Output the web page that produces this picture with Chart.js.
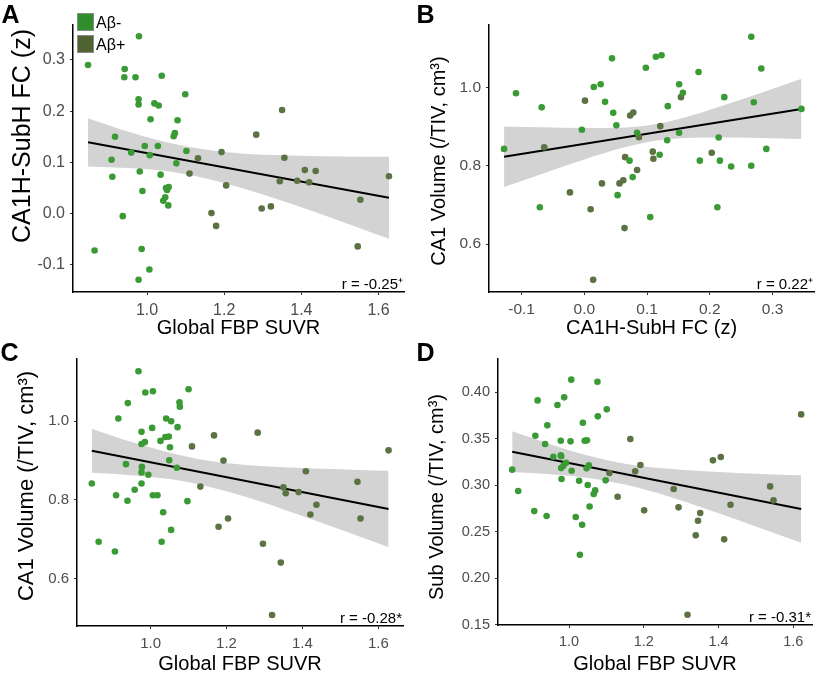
<!DOCTYPE html>
<html>
<head>
<meta charset="utf-8">
<script src="https://cdn.jsdelivr.net/npm/chart.js@4.4.1/dist/chart.umd.min.js"></script>
<style>
  body { margin: 0; background: #fff; }
  #wrap { position: relative; width: 820px; height: 676px; font-family: "Liberation Sans", Arial, sans-serif; }
  canvas { position: absolute; }
  .tag { position: absolute; font-weight: bold; font-size: 25px; line-height: 25px; color: #000; }
  .key { position: absolute; left: 77px; width: 15px; height: 16px; border: 1px solid #8c8c8c; }
  .keytext { position: absolute; left: 96px; font-size: 16px; line-height: 16px; color: #000; }
</style>
</head>
<body>
<div id="wrap">
  <canvas id="chartA" width="410" height="338" style="left:0;top:0"></canvas>
  <canvas id="chartB" width="410" height="338" style="left:410px;top:0"></canvas>
  <canvas id="chartC" width="410" height="338" style="left:0;top:338px"></canvas>
  <canvas id="chartD" width="410" height="338" style="left:410px;top:338px"></canvas>

  <div class="tag" style="left:1.5px;top:2px">A</div>
  <div class="tag" style="left:416.5px;top:2px">B</div>
  <div class="tag" style="left:0.5px;top:339.5px">C</div>
  <div class="tag" style="left:416.5px;top:339.5px">D</div>

  <div class="key" style="top:13px;background:#2f8d2b"></div>
  <div class="key" style="top:35px;background:#4f6331"></div>
  <div class="keytext" style="top:14.5px">Aβ-</div>
  <div class="keytext" style="top:36.5px">Aβ+</div>
</div>

<script>
// colours for the two groups
const negColor = '#3a9b35';
const posColor = '#5b7343';
const bandColor = '#d3d3d3';

// --- A: CA1H-SubH FC vs global FBP SUVR ---
const fcSuvrNeg = [[0.847,0.290],[0.864,-0.072],[0.908,0.105],[0.910,0.072],[0.917,0.150],[0.937,-0.005],
  [0.942,0.282],[0.941,0.266],[0.959,0.119],[0.970,0.266],[0.979,0.346],[0.978,0.223],[0.978,0.213],
  [0.981,0.082],[0.978,-0.129],[0.988,0.044],[0.986,-0.069],[0.994,0.132],[1.006,-0.109],[1.007,0.114],
  [1.009,0.184],[1.019,0.215],[1.030,0.211],[1.028,0.132],[1.038,0.269],[1.035,0.076],[1.042,0.025],
  [1.047,0.032],[1.049,0.050],[1.052,0.046],[1.056,0.052],[1.055,0.016],[1.069,0.151],[1.072,0.157],
  [1.079,0.182],[1.076,0.098],[1.099,0.233],[1.102,0.122]];
const fcSuvrPos = [[1.110,0.078],[1.132,0.108],[1.167,0.001],[1.179,-0.024],[1.193,0.120],[1.205,0.055],
  [1.283,0.154],[1.297,0.010],[1.321,0.014],[1.344,0.063],[1.350,0.202],[1.356,0.109],[1.389,0.064],
  [1.409,0.085],[1.420,0.061],[1.437,0.083],[1.546,-0.064],[1.553,0.027],[1.627,0.073]];
const fitA = [[0.847,0.139],[1.627,0.031]];
const bandAx = [0.847,0.95,1.05,1.15,1.25,1.35,1.45,1.55,1.627];
const bandAUpper = [0.186,0.160,0.139,0.125,0.117,0.114,0.112,0.111,0.111];
const bandALower = [0.092,0.089,0.083,0.069,0.049,0.025,-0.001,-0.028,-0.049];

// --- B: CA1 volume vs CA1H-SubH FC ---
const ca1FcNeg = [[-0.128,0.843],[-0.109,0.985],[-0.068,0.949],[-0.071,0.694],[-0.004,0.892],[0.015,1.001],
  [0.026,1.008],[0.033,0.963],[0.044,1.074],[0.046,0.935],[0.051,0.903],[0.053,0.725],[0.072,0.813],
  [0.077,0.771],[0.084,0.884],[0.098,1.050],[0.105,0.669],[0.114,1.078],[0.123,1.082],[0.120,0.828],
  [0.132,0.865],[0.133,0.952],[0.151,1.008],[0.151,0.884],[0.157,0.986],[0.182,1.039],[0.184,0.813],
  [0.212,0.694],[0.214,0.872],[0.216,0.813],[0.223,0.975],[0.234,0.798],[0.266,1.129],[0.266,0.800],
  [0.270,0.962],[0.282,1.048],[0.290,0.843],[0.346,0.945]];
const ca1FcPos = [[-0.064,0.847],[-0.023,0.732],[0.001,0.966],[0.010,0.689],[0.014,0.509],[0.028,0.755],
  [0.056,0.755],[0.062,0.763],[0.065,0.822],[0.064,0.641],[0.073,0.928],[0.078,0.936],[0.084,0.789],
  [0.087,0.873],[0.109,0.836],[0.110,0.818],[0.121,0.901],[0.154,0.975],[0.203,0.833]];
const fitB = [[-0.128,0.823],[0.346,0.945]];
const bandBx = [-0.128,-0.07,0,0.06,0.11,0.16,0.22,0.28,0.346];
const bandBUpper = [0.900,0.898,0.896,0.897,0.905,0.923,0.953,0.985,1.022];
const bandBLower = [0.746,0.778,0.816,0.845,0.863,0.871,0.872,0.871,0.868];

// --- C: CA1 volume vs global FBP SUVR ---
const ca1SuvrNeg = [[0.845,0.842],[0.863,0.694],[0.906,0.669],[0.909,0.812],[0.915,1.007],[0.935,0.891],
  [0.939,0.798],[0.940,1.046],[0.958,0.826],[0.968,1.127],[0.976,0.973],[0.976,0.942],[0.977,0.884],
  [0.976,0.870],[0.976,0.842],[0.985,0.947],[0.986,1.073],[0.994,0.864],[1.004,0.983],[1.006,1.076],
  [1.006,0.812],[1.018,0.812],[1.026,0.950],[1.033,0.769],[1.029,0.694],[1.039,0.960],[1.041,1.007],
  [1.048,0.961],[1.049,0.901],[1.051,0.934],[1.054,1.000],[1.054,0.724],[1.069,0.882],[1.071,0.985],
  [1.076,1.048],[1.077,1.037],[1.097,0.797],[1.100,1.081]];
const ca1SuvrPos = [[1.109,0.936],[1.131,0.834],[1.167,0.964],[1.179,0.732],[1.192,0.900],[1.204,0.753],
  [1.282,0.971],[1.296,0.689],[1.320,0.508],[1.343,0.641],[1.350,0.832],[1.356,0.817],[1.390,0.820],
  [1.409,0.873],[1.421,0.763],[1.437,0.788],[1.545,0.846],[1.553,0.753],[1.627,0.926]];
const fitC = [[0.845,0.925],[1.627,0.777]];
const bandCx = [0.845,0.95,1.05,1.15,1.25,1.35,1.45,1.55,1.627];
const bandCUpper = [0.981,0.947,0.920,0.900,0.889,0.883,0.879,0.876,0.874];
const bandCLower = [0.869,0.863,0.853,0.834,0.808,0.776,0.742,0.707,0.680];

// --- D: Sub volume vs global FBP SUVR ---
const subSuvrNeg = [[0.848,0.3166],[0.864,0.2936],[0.907,0.2721],[0.910,0.3531],[0.916,0.3910],[0.936,0.3441],
  [0.940,0.2668],[0.942,0.3642],[0.958,0.3305],[0.969,0.3860],[0.978,0.3477],[0.978,0.3319],[0.979,0.3310],
  [0.979,0.3183],[0.980,0.3065],[0.987,0.3943],[0.985,0.3208],[0.992,0.3241],[1.004,0.3470],[1.006,0.4133],
  [1.007,0.3155],[1.018,0.2657],[1.027,0.3047],[1.029,0.2252],[1.035,0.2574],[1.037,0.3670],[1.042,0.3477],
  [1.048,0.3481],[1.047,0.3180],[1.050,0.3001],[1.053,0.3212],[1.055,0.2771],[1.066,0.2904],[1.070,0.2943],
  [1.076,0.4111],[1.077,0.3739],[1.098,0.3051],[1.101,0.3814]];
const subSuvrPos = [[1.108,0.3130],[1.130,0.2875],[1.164,0.3495],[1.177,0.3148],[1.191,0.3216],[1.201,0.2729],
  [1.280,0.2958],[1.293,0.2761],[1.317,0.1607],[1.339,0.2460],[1.345,0.2617],[1.351,0.2700],[1.385,0.3266],
  [1.406,0.3302],[1.415,0.2417],[1.432,0.2789],[1.538,0.2986],[1.547,0.2836],[1.621,0.3760]];
const fitD = [[0.848,0.3359],[1.621,0.2743]];
const bandDx = [0.848,0.95,1.05,1.15,1.25,1.35,1.45,1.55,1.621];
const bandDUpper = [0.3578,0.3440,0.3319,0.3230,0.3180,0.3151,0.3131,0.3115,0.3105];
const bandDLower = [0.3140,0.3116,0.3077,0.3006,0.2898,0.2767,0.2627,0.2483,0.2381];

// tick labels and annotations
const suvrTicks = [1.0, 1.2, 1.4, 1.6];
const fcTicks = [-0.1, 0.0, 0.1, 0.2, 0.3];
const ca1Ticks = [0.6, 0.8, 1.0];
const subTicks = [0.15, 0.20, 0.25, 0.30, 0.35, 0.40];
const rLabels = ['r = -0.25\u207A', 'r = 0.22\u207A', 'r = -0.28*', 'r = -0.31*'];

const fontFamily = '"Liberation Sans", Arial, sans-serif';
Chart.defaults.font.family = fontFamily;

// writes the r value in the bottom right corner of the plot, and the rotated y title
const panelText = {
  id: 'panelText',
  afterDatasetsDraw(chart, args, opts) {
    const { ctx, chartArea } = chart;
    ctx.save();
    ctx.font = '15px ' + fontFamily;
    ctx.fillStyle = '#000';
    ctx.textAlign = 'right';
    ctx.textBaseline = 'alphabetic';
    ctx.fillText(opts.r, chartArea.right - 1, chartArea.bottom - 3.5);
    ctx.restore();

    ctx.save();
    ctx.translate(opts.yTitleX, opts.yTitleY);
    ctx.rotate(-Math.PI / 2);
    ctx.font = opts.yTitleSize + 'px ' + fontFamily;
    ctx.fillStyle = '#000';
    ctx.textAlign = 'center';
    ctx.textBaseline = 'middle';
    ctx.fillText(opts.yTitle, 0, 0);
    ctx.restore();
  }
};

function axis(min, max, ticks, dec, fit, tickSize, tickPad, title) {
  return {
    type: 'linear',
    min: min,
    max: max,
    afterBuildTicks: (s) => { s.ticks = ticks.map(v => ({ value: v })); },
    afterFit: fit,
    ticks: { font: { size: tickSize }, color: '#4d4d4d', padding: tickPad, callback: (v) => Number(v).toFixed(dec) },
    grid: { display: true, drawOnChartArea: false, drawTicks: true, tickLength: 3, color: '#333', lineWidth: 1 },
    border: { display: true, color: '#000', width: 1.5 },
    title: title
  };
}

function makePanel(id, p) {
  const pts = (arr) => arr.map(([x, y]) => ({ x: x, y: y }));
  const band = (ys) => p.bandX.map((x, i) => ({ x: x, y: ys[i] }));
  return new Chart(document.getElementById(id), {
    type: 'scatter',
    data: {
      datasets: [
        { data: pts(p.neg), backgroundColor: negColor, pointRadius: 3.3, borderWidth: 0, order: 0 },
        { data: pts(p.pos), backgroundColor: posColor, pointRadius: 3.3, borderWidth: 0, order: 0 },
        { type: 'line', data: pts(p.fit), borderColor: '#000', borderWidth: 2, pointRadius: 0, fill: false, order: 1 },
        { type: 'line', data: band(p.lower), borderColor: 'rgba(0,0,0,0)', borderWidth: 0, pointRadius: 0,
          fill: false, cubicInterpolationMode: 'monotone', order: 2 },
        { type: 'line', data: band(p.upper), borderColor: 'rgba(0,0,0,0)', borderWidth: 0, pointRadius: 0,
          fill: '-1', backgroundColor: bandColor, cubicInterpolationMode: 'monotone', order: 2 }
      ]
    },
    options: {
      responsive: false,
      animation: false,
      layout: { padding: { left: 0, top: p.top, right: p.right, bottom: 0 } },
      plugins: {
        legend: { display: false },
        tooltip: { enabled: false },
        panelText: { r: p.r, yTitle: p.yTitle, yTitleSize: p.yTitleSize, yTitleX: p.yTitleX, yTitleY: p.yTitleY }
      },
      scales: {
        x: axis(p.xMin, p.xMax, p.xTicks, p.xDec, (s) => { s.height = p.xH; }, p.tickSize, 5.5,
                { display: true, text: p.xTitle, color: '#000', font: { size: 20, lineHeight: 1 },
                  padding: { top: 0, bottom: p.xTitlePad } }),
        y: axis(p.yMin, p.yMax, p.yTicks, p.yDec, (s) => { s.width = p.yW; }, p.tickSize, 5,
                { display: false })
      }
    },
    plugins: [panelText]
  });
}

makePanel('chartA', {
  neg: fcSuvrNeg, pos: fcSuvrPos, fit: fitA, bandX: bandAx, upper: bandAUpper, lower: bandALower,
  xMin: 0.808, xMax: 1.666, xTicks: suvrTicks, xDec: 1, xTitle: 'Global FBP SUVR',
  yMin: -0.153, yMax: 0.368, yTicks: fcTicks, yDec: 1, yTitle: 'CA1H-SubH FC (z)',
  top: 25, right: 6, xH: 46, yW: 73, xTitlePad: 0, tickSize: 16,
  yTitleSize: 25, yTitleX: 23.5, yTitleY: 136, r: rLabels[0]
});
makePanel('chartB', {
  neg: ca1FcNeg, pos: ca1FcPos, fit: fitB, bandX: bandBx, upper: bandBUpper, lower: bandBLower,
  xMin: -0.152, xMax: 0.366, xTicks: fcTicks, xDec: 1, xTitle: 'CA1H-SubH FC (z)',
  yMin: 0.478, yMax: 1.159, yTicks: ca1Ticks, yDec: 1, yTitle: 'CA1 Volume (/TIV, cm\u00B3)',
  top: 25, right: 6, xH: 46, yW: 79, xTitlePad: 0, tickSize: 15.5,
  yTitleSize: 20, yTitleX: 29, yTitleY: 161, r: rLabels[1]
});
makePanel('chartC', {
  neg: ca1SuvrNeg, pos: ca1SuvrPos, fit: fitC, bandX: bandCx, upper: bandCUpper, lower: bandCLower,
  xMin: 0.806, xMax: 1.665, xTicks: suvrTicks, xDec: 1, xTitle: 'Global FBP SUVR',
  yMin: 0.480, yMax: 1.158, yTicks: ca1Ticks, yDec: 1, yTitle: 'CA1 Volume (/TIV, cm\u00B3)',
  top: 21, right: 7, xH: 50, yW: 77, xTitlePad: 2, tickSize: 15,
  yTitleSize: 22, yTitleX: 27, yTitleY: 148, r: rLabels[2]
});
makePanel('chartD', {
  neg: subSuvrNeg, pos: subSuvrPos, fit: fitD, bandX: bandDx, upper: bandDUpper, lower: bandDLower,
  xMin: 0.810, xMax: 1.650, xTicks: suvrTicks, xDec: 1, xTitle: 'Global FBP SUVR',
  yMin: 0.1497, yMax: 0.4355, yTicks: subTicks, yDec: 2, yTitle: 'Sub Volume (/TIV, cm\u00B3)',
  top: 21, right: 8, xH: 51, yW: 88, xTitlePad: 2, tickSize: 14.5,
  yTitleSize: 20, yTitleX: 27, yTitleY: 159, r: rLabels[3]
});
</script>
</body>
</html>
